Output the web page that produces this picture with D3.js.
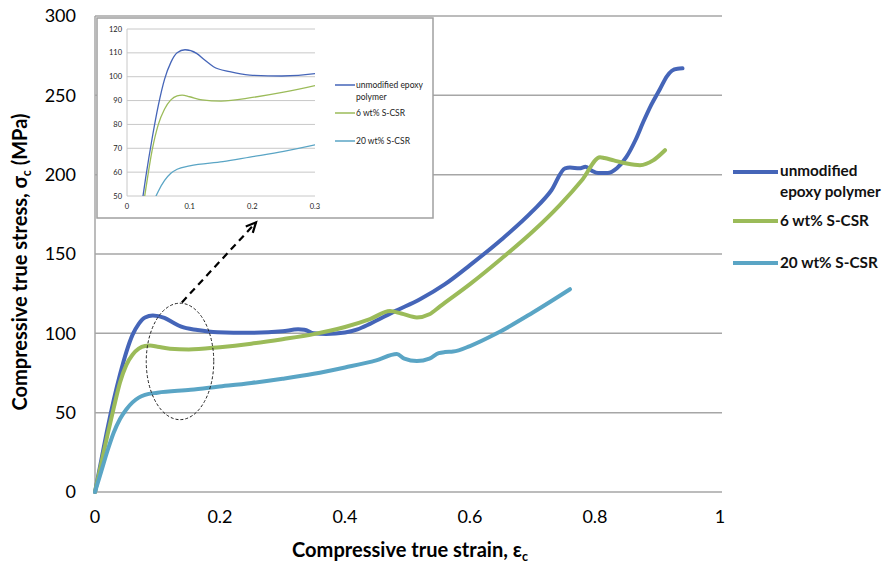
<!DOCTYPE html>
<html><head><meta charset="utf-8">
<script src="https://cdn.jsdelivr.net/npm/d3@7"></script>
<style>
body{margin:0;background:#fff;}
text{font-family:Lato,"Open Sans",sans-serif;}
</style></head>
<body><svg id="c" width="884" height="568"></svg>
<script>
// ---- data ----
const seriesNames = ["unmodified epoxy polymer", "6 wt% S-CSR", "20 wt% S-CSR"];
const seriesColors = ["#4565b8", "#9bbb59", "#5aa5c5"];
const unmodified = [[0,0],[0.01,20],[0.02,40],[0.03,58],[0.04,74],[0.05,88],[0.06,99],[0.07,106],[0.08,110],[0.0926,111.3],[0.111,109.8],[0.124,107],[0.138,104.2],[0.164,102.1],[0.196,100.7],[0.247,100.3],[0.3,101.3],[0.325,102.5],[0.335,102.3],[0.35,100],[0.37,99.6],[0.4,100.5],[0.42,102.5],[0.44,106],[0.48,114],[0.52,121.5],[0.56,131],[0.6,143],[0.65,159],[0.7,177],[0.73,190],[0.752,204],[0.76,204.5],[0.775,204],[0.785,205],[0.795,202.5],[0.805,201],[0.82,201],[0.835,204],[0.85,211],[0.865,222],[0.877,233],[0.89,244],[0.904,254],[0.915,262],[0.923,265.5],[0.932,266.8],[0.94,267]];
const csr6 = [[0,0],[0.01,18],[0.02,36],[0.03,53],[0.04,69],[0.05,80],[0.06,86.5],[0.07,90.3],[0.08,92],[0.088,92.3],[0.1,91.6],[0.12,90.3],[0.15,89.8],[0.2,91.3],[0.25,93.5],[0.3,96.3],[0.35,99.5],[0.4,104],[0.44,109],[0.472,114],[0.49,112.5],[0.515,110],[0.535,112],[0.552,117],[0.6,131],[0.65,147],[0.7,164],[0.744,181],[0.78,197],[0.808,211],[0.815,210.5],[0.83,209],[0.851,207],[0.872,206],[0.893,209],[0.912,215.4]];
const csr20 = [[0,0],[0.01,13],[0.02,26],[0.03,37.5],[0.04,46],[0.05,52],[0.06,56.5],[0.07,59.5],[0.08,61.2],[0.1,62.6],[0.153,64.4],[0.196,66.3],[0.25,68.7],[0.3,71.4],[0.35,74.5],[0.4,78.5],[0.45,83],[0.483,87],[0.495,84],[0.515,82.5],[0.535,84],[0.55,87.5],[0.56,88.2],[0.573,88.5],[0.6,92],[0.643,100],[0.7,113],[0.76,127.8]];
const xTicks = [0, 0.2, 0.4, 0.6, 0.8, 1];
const yTicks = [0, 50, 100, 150, 200, 250, 300];
const insetXTicks = [0, 0.1, 0.2, 0.3];
const insetYTicks = [50, 60, 70, 80, 90, 100, 110, 120];
// annotation (data units)
const ellipseCenter = [0.136, 82.3], ellipseRadii = [0.054, 36.7];
const arrowFrom = [0.139, 119.5], arrowTo = [0.2576, 169.9];

const allSeries = [unmodified, csr6, csr20];
const svg = d3.select("#c");
const x = d3.scaleLinear().domain([0,1]).range([95,720]);
const y = d3.scaleLinear().domain([0,300]).range([492,16]);
const grid = "#a6a6a6";

// grid
svg.append("g").selectAll("line").data(yTicks).join("line")
  .attr("x1",95).attr("x2",722).attr("y1",d=>y(d)).attr("y2",d=>y(d))
  .attr("stroke",grid).attr("stroke-width",1.5);
svg.append("line").attr("x1",95).attr("x2",95).attr("y1",y(300)).attr("y2",y(0)).attr("stroke",grid).attr("stroke-width",1.5);

// ticks labels
svg.append("g").selectAll("text").data(yTicks).join("text")
  .attr("x",76).attr("y",d=>y(d)).attr("dy","0.35em").attr("text-anchor","end")
  .attr("font-size",18).attr("fill","#000").text(d=>d);
svg.append("g").selectAll("text").data(xTicks).join("text")
  .attr("x",d=>x(d)).attr("y",523).attr("text-anchor","middle")
  .attr("font-size",18).attr("fill","#000").text(d=>d);

// axis titles (fit to target length, centred)
function fitTitle(t, target){
  let fs = 19.5;
  t.attr("font-size", fs);
  const len = t.node().getComputedTextLength();
  fs = fs*target/len;
  t.attr("font-size", fs);
  t.selectAll("tspan.sub").attr("font-size", fs*0.62);
  const len2 = t.node().getComputedTextLength();
  t.attr("x", -len2/2);
}
const xg = svg.append("g").attr("transform","translate(410,557)");
const xt = xg.append("text").attr("font-weight","bold");
xt.append("tspan").text("Compressive true strain, ε");
xt.append("tspan").attr("class","sub").attr("font-size",12).attr("dy",4).text("c");
fitTitle(xt, 236);
const yg = svg.append("g").attr("transform","translate(27,262) rotate(-90)");
const yt = yg.append("text").attr("font-weight","bold");
yt.append("tspan").text("Compressive true stress, σ");
yt.append("tspan").attr("class","sub").attr("font-size",12).attr("dy",4).text("c");
yt.append("tspan").attr("dy",-4).text(" (MPa)");
fitTitle(yt, 297);

// main lines
const line = d3.line().x(d=>x(d[0])).y(d=>y(d[1])).curve(d3.curveMonotoneX);
svg.append("g").selectAll("path").data(allSeries).join("path")
  .attr("d",line).attr("fill","none").attr("stroke",(d,i)=>seriesColors[i])
  .attr("stroke-width",4).attr("stroke-linejoin","round").attr("stroke-linecap","round");

// legend
const legY = [[171,192],[221],[263]];
const legLabels = [["unmodified","epoxy polymer"],["6 wt% S-CSR"],["20 wt% S-CSR"]];
legLabels.forEach((lab,i)=>{
  const ly = i===0 ? 172 : legY[i][0];
  svg.append("line").attr("x1",733).attr("x2",778).attr("y1",ly).attr("y2",ly)
    .attr("stroke",seriesColors[i]).attr("stroke-width",4);
  lab.forEach((t,j)=>svg.append("text").attr("x",780).attr("y",legY[i][j]).attr("dy","0.35em")
    .attr("font-size",15.3).attr("font-weight","bold").attr("fill","#111").text(t));
});

// ellipse & arrow
svg.append("ellipse").attr("cx",x(ellipseCenter[0])).attr("cy",y(ellipseCenter[1]))
  .attr("rx",x(ellipseRadii[0])-x(0)).attr("ry",y(0)-y(ellipseRadii[1]))
  .attr("fill","none").attr("stroke","#222").attr("stroke-width",1).attr("stroke-dasharray","3,2");
const ax1=x(arrowFrom[0]), ay1=y(arrowFrom[1]), ax2=x(arrowTo[0]), ay2=y(arrowTo[1]);
svg.append("line").attr("x1",ax1).attr("y1",ay1).attr("x2",ax2).attr("y2",ay2)
  .attr("stroke","#000").attr("stroke-width",2.2).attr("stroke-dasharray","7,5");
const ang=Math.atan2(ay2-ay1,ax2-ax1), ah=11, aw=0.45;
svg.append("path").attr("d",`M${ax2-ah*Math.cos(ang-aw)},${ay2-ah*Math.sin(ang-aw)}L${ax2},${ay2}L${ax2-ah*Math.cos(ang+aw)},${ay2-ah*Math.sin(ang+aw)}`)
  .attr("fill","none").attr("stroke","#000").attr("stroke-width",2.2);

// ---- inset ----
const ig = svg.append("g");
ig.append("rect").attr("x",97).attr("y",18).attr("width",336).attr("height",200)
  .attr("fill","#fff").attr("stroke","#a0a0a0").attr("stroke-width",1.5);
const ix = d3.scaleLinear().domain([0,0.3]).range([127,315]);
const iy = d3.scaleLinear().domain([50,120]).range([196,29]);
ig.append("g").selectAll("line").data(insetYTicks).join("line")
  .attr("x1",127).attr("x2",315).attr("y1",d=>iy(d)).attr("y2",d=>iy(d))
  .attr("stroke","#c8c8c8").attr("stroke-width",1);
ig.append("line").attr("x1",127).attr("x2",127).attr("y1",iy(120)).attr("y2",iy(50)).attr("stroke","#c8c8c8");
ig.append("g").selectAll("text").data(insetYTicks).join("text")
  .attr("x",122).attr("y",d=>iy(d)).attr("dy","0.35em").attr("text-anchor","end")
  .attr("font-size",7.5).attr("fill","#222").text(d=>d);
ig.append("g").selectAll("text").data(insetXTicks).join("text")
  .attr("x",d=>ix(d)).attr("y",209).attr("text-anchor","middle")
  .attr("font-size",7.5).attr("fill","#222").text(d=>d);
svg.append("clipPath").attr("id","ic").append("rect").attr("x",127).attr("y",iy(120)).attr("width",188).attr("height",iy(50)-iy(120));
const iline = d3.line().x(d=>ix(d[0])).y(d=>iy(d[1])).curve(d3.curveMonotoneX);
ig.append("g").attr("clip-path","url(#ic)").selectAll("path").data(allSeries).join("path")
  .attr("d",iline).attr("fill","none").attr("stroke",(d,i)=>seriesColors[i]).attr("stroke-width",1.3);
const iLegY=[[85,97],[113],[141]];
const iLegLabels=[["unmodified epoxy","polymer"],["6 wt% S-CSR"],["20 wt% S-CSR"]];
iLegLabels.forEach((lab,i)=>{
  ig.append("line").attr("x1",335).attr("x2",355).attr("y1",iLegY[i][0]).attr("y2",iLegY[i][0])
    .attr("stroke",seriesColors[i]).attr("stroke-width",1.5);
  lab.forEach((t,j)=>ig.append("text").attr("x",356).attr("y",iLegY[i][j]).attr("dy","0.35em")
    .attr("font-size",8.5).attr("fill","#222").text(t));
});
</script></body></html>
